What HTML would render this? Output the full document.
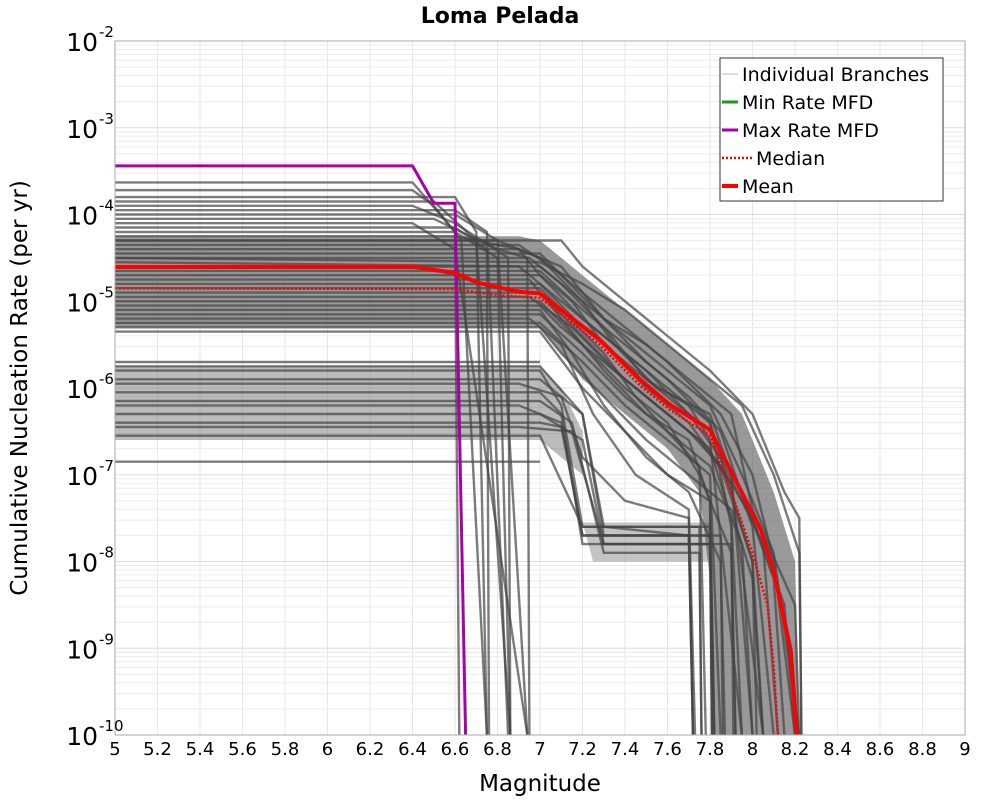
<!DOCTYPE html>
<html><head><meta charset="utf-8"><style>
body{margin:0;background:#fff;font-family:"DejaVu Sans","Liberation Sans",sans-serif}
svg{display:block}
</style></head><body>
<svg id="chart" width="1000" height="800" xmlns="http://www.w3.org/2000/svg">
<text x="500" y="23" text-anchor="middle" font-size="22" font-weight="bold">Loma Pelada</text>
<g id="grid"></g>
<g id="bands"></g>
<g id="branches"></g>
<g id="series"></g>
<rect x="115" y="41" width="850" height="694" fill="none" stroke="#aaa" stroke-width="1"/>
<g id="xticks"></g>
<g id="yticks"></g>
<text x="540" y="791" text-anchor="middle" font-size="23">Magnitude</text>
<text transform="translate(27,388) rotate(-90)" text-anchor="middle" font-size="23">Cumulative Nucleation Rate (per yr)</text>
<g>
<rect x="720" y="58" width="223" height="143" fill="#fff" stroke="#333" stroke-width="1"/>
<line x1="722" y1="74" x2="738" y2="74" stroke="#bbb" stroke-width="1"/>
<text x="742" y="81" font-size="19">Individual Branches</text>
<line x1="722" y1="102" x2="738" y2="102" stroke="#1a9a1a" stroke-width="3"/>
<text x="742" y="109" font-size="19">Min Rate MFD</text>
<line x1="722" y1="130" x2="738" y2="130" stroke="#aa00aa" stroke-width="3"/>
<text x="742" y="137" font-size="19">Max Rate MFD</text>
<line x1="722" y1="158" x2="752" y2="158" stroke="#f00" stroke-width="2.5" stroke-dasharray="2,2"/>
<text x="756" y="165" font-size="19">Median</text>
<line x1="722" y1="186" x2="738" y2="186" stroke="#f00" stroke-width="4"/>
<text x="742" y="193" font-size="19">Mean</text>
</g>
</svg>
<script>
const xTicks=[5,5.2,5.4,5.6,5.8,6,6.2,6.4,6.6,6.8,7,7.2,7.4,7.6,7.8,8,8.2,8.4,8.6,8.8,9];
const yExponents=[-2,-3,-4,-5,-6,-7,-8,-9,-10];
const maxMfd=[[5,-3.44],[6.4,-3.44],[6.5,-3.87],[6.6,-3.87],[6.65,-10]];
const meanMfd=[[5,-4.605],[6.41,-4.605],[6.6,-4.675],[6.71,-4.79],[6.9,-4.89],[7.0,-4.91],[7.1,-5.1],[7.28,-5.44],[7.47,-5.9],[7.61,-6.19],[7.8,-6.48],[7.92,-7.06],[8.04,-7.64],[8.1,-8.1],[8.18,-9.02],[8.21,-10]];
const medianMfd=[[5,-4.85],[6.6,-4.86],[6.8,-4.93],[7.0,-4.96],[7.1,-5.15],[7.28,-5.5],[7.47,-5.97],[7.61,-6.25],[7.8,-6.55],[7.9,-7.2],[8.0,-7.9],[8.07,-8.5],[8.1,-9.2],[8.12,-10]];
const mainBandUpper=[[5,-4.25],[6.9,-4.25],[7.0,-4.3],[7.2,-4.7],[7.4,-5.1],[7.6,-5.5],[7.8,-5.9],[7.95,-6.3],[8.1,-7.2],[8.2,-8.0],[8.22,-10]];
const mainBandLower=[[5,-5.3],[7.0,-5.3],[7.2,-5.9],[7.4,-6.3],[7.6,-6.7],[7.75,-7.2],[7.8,-8.2],[7.82,-10]];
const lowBandUpper=[[5,-5.75],[7.0,-5.75],[7.1,-6.0],[7.2,-6.5]];
const lowBandLower=[[5,-6.6],[7.0,-6.6],[7.2,-7.0],[7.2,-6.5]];
const shelfBandUpper=[[7.2,-7.55],[7.8,-7.55]];
const shelfBandLower=[[7.25,-8.0],[7.8,-8.0]];
const branches=[
[[5,-3.63],[6.4,-3.63],[6.6,-4.2],[6.62,-10]],
[[5,-3.72],[6.4,-3.72],[6.5,-3.9],[6.63,-4.3],[6.75,-10]],
[[5,-3.8],[6.6,-3.8],[6.7,-4.2],[6.75,-10]],
[[5,-3.85],[6.5,-3.85],[6.7,-4.3],[6.86,-10]],
[[5,-3.9],[6.4,-3.9],[6.6,-4.1],[6.85,-4.5],[6.86,-10]],
[[5,-3.95],[6.6,-3.95],[6.75,-4.2],[6.85,-10]],
[[5,-4.0],[6.6,-4.0],[6.8,-4.3],[6.94,-10]],
[[5,-4.05],[6.5,-4.05],[6.8,-4.4],[6.94,-4.5],[6.95,-10]],
[[5,-4.1],[6.4,-4.1],[6.6,-4.4],[6.94,-10]],
[[5,-4.15],[6.6,-4.15],[6.75,-4.4],[6.76,-10]],
[[5,-4.2],[6.6,-4.2],[6.8,-4.5],[6.86,-10]],
[[5,-4.25],[6.6,-4.25],[6.9,-4.4],[7.0,-4.5],[7.2,-5.0],[7.4,-5.4],[7.6,-5.8],[7.8,-6.2],[7.95,-7.0],[8.1,-7.9],[8.22,-10]],
[[5,-4.3],[6.8,-4.3],[7.0,-4.5],[7.1,-4.6],[7.3,-5.2],[7.5,-5.5],[7.7,-5.9],[7.9,-6.3],[8.0,-7.4],[8.2,-8.5],[8.22,-10]],
[[5,-4.35],[6.9,-4.35],[7.05,-4.6],[7.2,-4.9],[7.4,-5.3],[7.6,-5.7],[7.85,-6.3],[8.0,-7.0],[8.1,-8.0],[8.2,-10]],
[[5,-4.4],[6.9,-4.4],[7.0,-4.7],[7.2,-5.2],[7.4,-5.6],[7.6,-6.0],[7.8,-6.4],[7.9,-7.2],[8.0,-8.0],[8.05,-10]],
[[5,-4.45],[7.0,-4.45],[7.1,-4.7],[7.3,-5.2],[7.5,-5.7],[7.7,-6.1],[7.85,-6.5],[8.0,-7.6],[8.1,-10]],
[[5,-4.5],[6.95,-4.5],[7.1,-4.8],[7.3,-5.3],[7.5,-5.9],[7.7,-6.2],[7.8,-6.6],[7.95,-10]],
[[5,-4.55],[7.0,-4.6],[7.2,-5.0],[7.35,-5.5],[7.55,-6.0],[7.8,-6.3],[7.9,-7.0],[8.0,-10]],
[[5,-4.6],[6.9,-4.6],[7.1,-5.0],[7.3,-5.4],[7.5,-5.8],[7.7,-6.3],[7.85,-6.8],[8.05,-7.8],[8.12,-10]],
[[5,-4.65],[7.0,-4.65],[7.2,-5.1],[7.4,-5.5],[7.6,-5.9],[7.8,-6.4],[7.9,-7.6],[7.91,-10]],
[[5,-4.7],[7.0,-4.7],[7.15,-5.0],[7.3,-5.5],[7.5,-6.0],[7.7,-6.4],[7.85,-6.9],[8.0,-8.0],[8.02,-10]],
[[5,-4.75],[6.95,-4.75],[7.1,-5.2],[7.3,-5.8],[7.5,-6.3],[7.7,-6.6],[7.8,-7.3],[7.82,-10]],
[[5,-4.8],[7.0,-4.8],[7.2,-5.3],[7.4,-5.7],[7.6,-6.1],[7.8,-6.5],[7.95,-7.2],[8.1,-8.2],[8.15,-10]],
[[5,-4.85],[7.0,-4.85],[7.1,-5.1],[7.3,-5.6],[7.45,-6.1],[7.6,-6.5],[7.75,-6.9],[7.78,-10]],
[[5,-4.9],[7.0,-4.9],[7.2,-5.4],[7.4,-5.9],[7.6,-6.3],[7.8,-6.7],[7.9,-7.5],[7.95,-10]],
[[5,-4.95],[6.95,-4.95],[7.15,-5.3],[7.35,-5.8],[7.55,-6.2],[7.75,-6.6],[7.9,-7.1],[8.05,-10]],
[[5,-5.0],[7.0,-5.0],[7.2,-5.5],[7.4,-6.0],[7.6,-6.4],[7.75,-7.0],[7.9,-7.9],[7.92,-10]],
[[5,-5.05],[7.0,-5.05],[7.1,-5.3],[7.3,-5.7],[7.5,-6.1],[7.7,-6.5],[7.85,-6.9],[8.0,-7.5],[8.15,-8.5],[8.2,-10]],
[[5,-5.1],[7.0,-5.1],[7.15,-5.6],[7.3,-6.2],[7.5,-6.8],[7.7,-7.2],[7.85,-8.0],[7.87,-10]],
[[5,-5.15],[7.0,-5.15],[7.2,-5.6],[7.4,-6.1],[7.6,-6.5],[7.8,-6.9],[7.95,-7.8],[8.0,-10]],
[[5,-5.2],[6.95,-5.2],[7.1,-5.5],[7.25,-6.3],[7.45,-7.0],[7.7,-7.4],[7.73,-10]],
[[5,-5.25],[7.0,-5.25],[7.2,-5.7],[7.4,-6.2],[7.6,-6.6],[7.8,-7.0],[7.85,-10]],
[[5,-5.3],[7.0,-5.3],[7.1,-5.6],[7.3,-6.1],[7.5,-6.6],[7.7,-7.0],[7.9,-7.4],[8.0,-8.2],[8.05,-10]],
[[5,-5.35],[7.0,-5.35],[7.2,-6.0],[7.4,-6.5],[7.6,-7.0],[7.8,-7.3],[7.81,-10]],
[[5,-4.5],[7.0,-4.55],[7.2,-4.8],[7.4,-5.1],[7.6,-5.5],[7.8,-5.9],[7.95,-6.2],[8.1,-7.0],[8.22,-7.9],[8.23,-10]],
[[5,-4.3],[7.1,-4.3],[7.2,-4.6],[7.4,-5.0],[7.6,-5.4],[7.8,-5.8],[8.0,-6.3],[8.15,-7.2],[8.22,-7.5],[8.23,-10]],
[[5,-5.8],[7.0,-5.8],[7.1,-6.2],[7.2,-7.6],[7.75,-7.6],[7.76,-10]],
[[5,-5.9],[7.0,-5.9],[7.2,-6.3],[7.3,-7.7],[7.8,-7.7],[7.81,-10]],
[[5,-5.95],[6.9,-5.95],[7.1,-6.1],[7.2,-6.8],[7.4,-7.3],[7.7,-7.5],[7.72,-10]],
[[5,-6.05],[7.0,-6.05],[7.1,-6.3],[7.2,-7.8],[7.8,-7.8],[7.82,-10]],
[[5,-6.15],[7.0,-6.15],[7.15,-6.4],[7.3,-7.9],[7.75,-7.9],[7.76,-10]],
[[5,-6.2],[6.9,-6.2],[7.1,-6.4],[7.2,-7.7],[7.85,-7.7],[7.86,-10]],
[[5,-6.3],[7.0,-6.3],[7.2,-6.6],[7.3,-7.8],[7.9,-7.8],[7.92,-10]],
[[5,-6.4],[7.0,-6.4],[7.1,-6.45],[7.2,-7.7],[7.7,-7.7],[7.72,-10]],
[[5,-6.45],[6.9,-6.45],[7.15,-6.5],[7.3,-7.8],[7.8,-7.8],[7.81,-10]],
[[5,-6.55],[7.0,-6.55],[7.2,-7.6],[7.8,-7.6],[7.82,-10]],
[[5,-6.85],[7.0,-6.85]],
[[5,-5.7],[7.0,-5.7]],
[[5,-5.75],[7.0,-5.75],[7.2,-6.3],[7.3,-7.6],[7.7,-7.7],[7.72,-10]]
];
const X0=115,X1=965,Y0=41,Y1=735,mMin=5,mMax=9,lMax=-2,lMin=-10;
const sx=m=>X0+(m-mMin)/(mMax-mMin)*(X1-X0);
const sy=l=>Y0+(lMax-l)/(lMax-lMin)*(Y1-Y0);
const NS='http://www.w3.org/2000/svg';
function mk(tag,attrs,parent){const e=document.createElementNS(NS,tag);for(const k in attrs)e.setAttribute(k,attrs[k]);parent.appendChild(e);return e;}
const grid=document.getElementById('grid');
xTicks.forEach(m=>{const l=mk('line',{x1:sx(m),x2:sx(m),y1:Y0,y2:Y1,stroke:'#e6e6e6','stroke-width':1},grid);

});
for(let e=-10;e<-2;e++){for(let k=1;k<10;k++){const y=sy(e+Math.log10(k));
const l=mk('line',{x1:X0,x2:X1,y1:y,y2:y,stroke:k===1?'#dddddd':'#ececec','stroke-width':1},grid);

}}
const pts=a=>a.map(p=>sx(p[0]).toFixed(1)+','+sy(p[1]).toFixed(1)).join(' ');
const bands=document.getElementById('bands');
[[mainBandUpper,mainBandLower,0.6],[lowBandUpper,lowBandLower,0.4],[shelfBandUpper,shelfBandLower,0.35]].forEach(b=>{
const poly=mk('polygon',{points:pts(b[0].concat(b[1].slice().reverse())),fill:'#555','fill-opacity':b[2],stroke:'none'},bands);

});
const bg=document.getElementById('branches');
branches.forEach(b=>{const p=mk('polyline',{points:pts(b),fill:'none',stroke:'#444','stroke-opacity':0.7,'stroke-width':2.4},bg);

});
const sg=document.getElementById('series');
let p=mk('polyline',{points:pts(maxMfd),fill:'none',stroke:'#aa00aa','stroke-width':3},sg);


p=mk('polyline',{points:pts(medianMfd),fill:'none',stroke:'#f00','stroke-width':2.5,'stroke-dasharray':'2,2'},sg);


p=mk('polyline',{points:pts(meanMfd),fill:'none',stroke:'#f00','stroke-width':4},sg);


const xt=document.getElementById('xticks');
xTicks.forEach(m=>{const t=mk('text',{x:sx(m),y:755,'text-anchor':'middle','font-size':18},xt);t.textContent=String(m);

});
const yt=document.getElementById('yticks');
yExponents.forEach(e=>{const t=mk('text',{x:98,y:sy(e)+10,'text-anchor':'end','font-size':25},yt);t.textContent='10';


const s=mk('text',{x:99,y:sy(e)-4,'font-size':15},yt);s.textContent=String(e);

});
</script>
</body></html>
